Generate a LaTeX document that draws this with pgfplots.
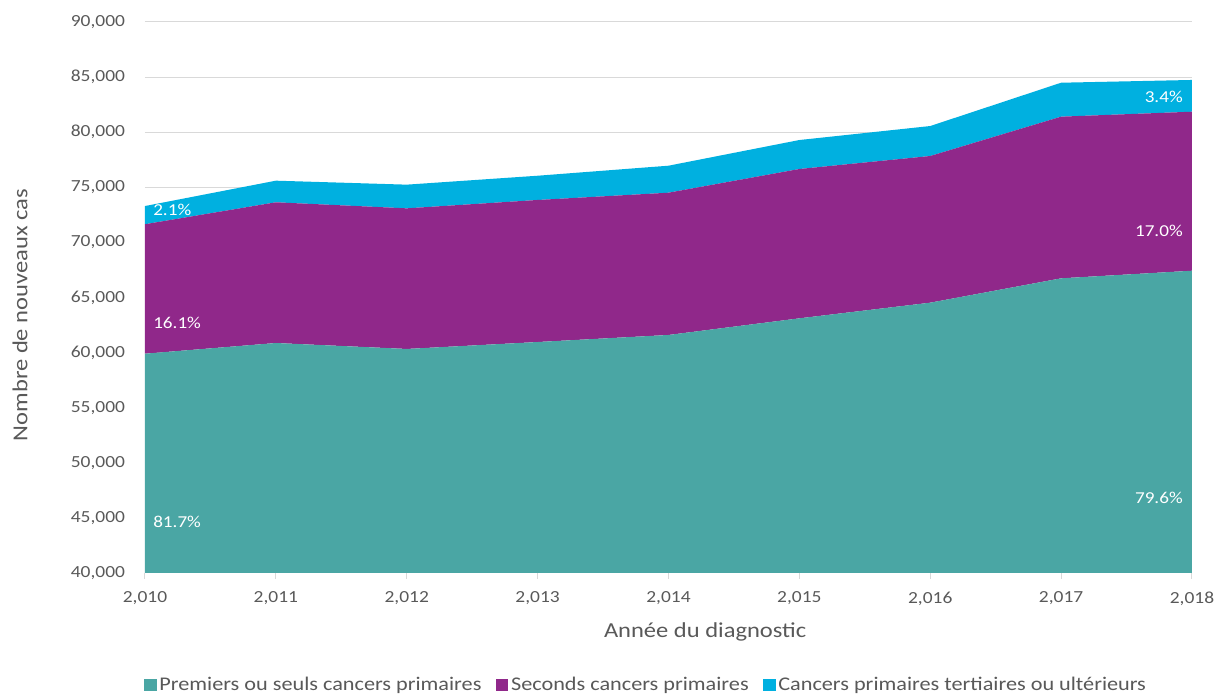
\documentclass[border=0pt]{standalone}
\usepackage{fontspec}
\setmainfont{Carlito}[FakeStretch=1.15]
\usepackage{pgfplots}
\pgfplotsset{compat=1.18}
\definecolor{cteal}{RGB}{74,166,164}
\definecolor{cpurple}{RGB}{144,40,138}
\definecolor{ccyan}{RGB}{0,176,224}
\definecolor{ctext}{RGB}{89,89,89}
\definecolor{cgrid}{RGB}{217,217,217}
\begin{document}
\begin{tikzpicture}
\useasboundingbox (-108.75pt,-91.5pt) rectangle (804pt,429.75pt);
\begin{axis}[
  at={(0,0)}, anchor=south west,
  scale only axis, width=785.25pt, height=413.25pt,
  xmin=2010, xmax=2018, ymin=40000, ymax=90000,
  stack plots=y,
  xtick={2010,2011,2012,2013,2014,2015,2016,2017,2018},
  ytick={40000,45000,50000,55000,60000,65000,70000,75000,80000,85000,90000},
  scaled ticks=false,
  /pgf/number format/1000 sep={,},
  /pgf/number format/assume math mode=true,
  ymajorgrids, grid style={cgrid, line width=0.75pt},
  axis x line*=bottom, axis y line*=left,
  y axis line style={draw=none},
  x axis line style={cgrid, line width=0.75pt},
  xtick style={cgrid, line width=0.75pt},
  ytick style={draw=none},
  tick align=outside, major tick length=4.5pt,
  ticklabel style={font=\fontsize{12.7}{14}\selectfont, text=ctext},
  xticklabel style={yshift=-6pt},
  yticklabel style={xshift=-7pt},
  every axis y label/.style={at={(axis description cs:-0.1194,0.468)}, rotate=90, anchor=center},
  every axis x label/.style={at={(axis description cs:0.535,-0.1071)}, anchor=center},
  label style={font=\fontsize{16}{18}\selectfont, text=ctext},
  xlabel={Année du diagnostic},
  ylabel={Nombre de nouveaux cas},
  legend style={at={(axis description cs:0.479,-0.2033)}, anchor=center, draw=none,
    font=\fontsize{14.5}{16}\selectfont, text=ctext,
    /tikz/every even column/.append style={column sep=9pt}},
  legend columns=3,
  legend image code/.code={\fill[#1] (0pt,-4.6pt) rectangle (9.2pt,4.6pt);},
]
\addplot[fill=cteal, draw=none] coordinates {
 (2010,59900) (2011,60870) (2012,60330) (2013,60960) (2014,61600)
 (2015,63110) (2016,64530) (2017,66740) (2018,67430)} \closedcycle;
\addplot[fill=cpurple, draw=none] coordinates {
 (2010,11750) (2011,12770) (2012,12760) (2013,12890) (2014,12910)
 (2015,13550) (2016,13310) (2017,14670) (2018,14430)} \closedcycle;
\addplot[fill=ccyan, draw=none] coordinates {
 (2010,1650) (2011,1960) (2012,2150) (2013,2200) (2014,2450)
 (2015,2630) (2016,2720) (2017,3080) (2018,2880)} \closedcycle;
\legend{Premiers ou seuls cancers primaires, Seconds cancers primaires, Cancers primaires tertiaires ou ultérieurs}
\coordinate (la) at (axis cs:2010,72940);
\coordinate (lb) at (axis cs:2010,62690);
\coordinate (lc) at (axis cs:2010,44630);
\coordinate (ra) at (axis cs:2018,83190);
\coordinate (rb) at (axis cs:2018,71030);
\coordinate (rc) at (axis cs:2018,46800);
\end{axis}
\begin{scope}[every node/.style={text=white, inner sep=0pt, font=\fontsize{12.5}{14}\selectfont}]
\node[anchor=west, xshift=6pt] at (la) {2.1\%};
\node[anchor=west, xshift=6pt] at (lb) {16.1\%};
\node[anchor=west, xshift=6pt] at (lc) {81.7\%};
\node[anchor=east, xshift=-6.75pt] at (ra) {3.4\%};
\node[anchor=east, xshift=-6.75pt] at (rb) {17.0\%};
\node[anchor=east, xshift=-6.75pt] at (rc) {79.6\%};
\end{scope}
\end{tikzpicture}
\end{document}
